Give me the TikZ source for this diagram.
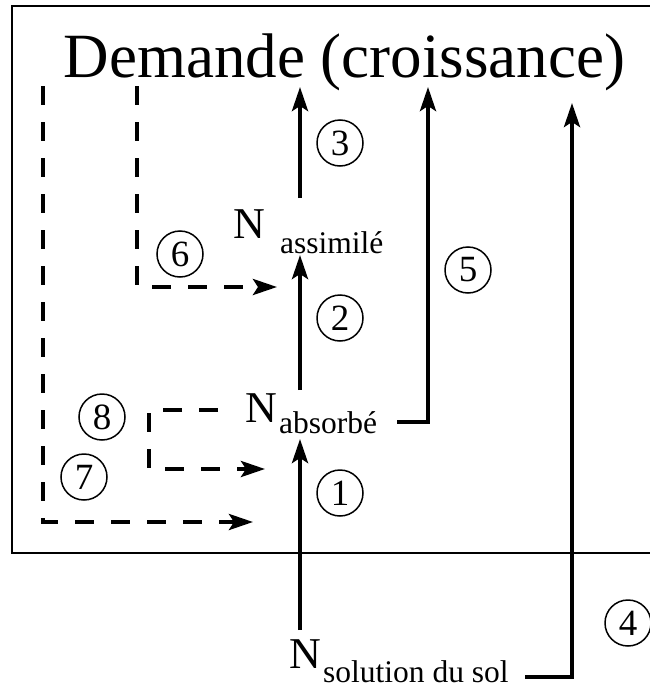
\documentclass[tikz,border=0pt]{standalone}
\usepackage{fontspec}
\setmainfont{Liberation Serif}
\usetikzlibrary{arrows.meta}
\begin{document}
\begin{tikzpicture}[x=1pt,y=-1pt,
  flow/.style={line width=4pt,-{Stealth[length=24pt,width=16pt,inset=5pt]}},
  dflow/.style={flow,dash pattern=on 19pt off 17pt},
  num/.style={circle,draw,line width=1.5pt,minimum size=46pt,inner sep=0pt,font=\fontsize{37}{37}\selectfont},
  lbl/.style={inner sep=0pt,anchor=base west},
  bigN/.style={lbl,font=\fontsize{44}{44}\selectfont},
  subtxt/.style={lbl,font=\fontsize{31.5}{31.5}\selectfont},
  frame/.style={line width=2pt}]
\useasboundingbox (0,0) rectangle (650,688);
\fill[white] (0,0) rectangle (650,688);
% frame (open on the right)
\draw[frame] (650,6) -- (12,6) -- (12,553) -- (650,553);
% texts
\node[inner sep=0pt,anchor=base,font=\fontsize{63}{63}\selectfont] (dem) at (344.5,77) {Demande (croissance)};
\node[bigN] (nassN) at (233,238) {N};
\node[subtxt] (nass) at (280,253) {assimilé};
\node[bigN] (nabsN) at (245,422) {N};
\node[subtxt] (nabs) at (279,433) {absorbé};
\node[bigN] (nsolN) at (289,668) {N};
\node[subtxt] (nsol) at (323,682) {solution du sol};
% circled numbers
\node[num] (c1) at (340,493) {1};
\node[num] (c2) at (340,318) {2};
\node[num] (c3) at (340,143) {3};
\node[num] (c4) at (628,623) {4};
\node[num] (c5) at (468,270) {5};
\node[num] (c6) at (180,254) {6};
\node[num] (c7) at (84,477) {7};
\node[num] (c8) at (102,417) {8};
% connector end points
\coordinate (a1s) at (300,630); \coordinate (a1e) at (300,439);
\coordinate (a2s) at (300,390); \coordinate (a2e) at (300,255);
\coordinate (a3s) at (300,198); \coordinate (a3e) at (300,87);
\coordinate (a5s) at (397,422); \coordinate (a5k) at (428,422); \coordinate (a5e) at (428,87);
\coordinate (a4s) at (525,677); \coordinate (a4k) at (572,677); \coordinate (a4e) at (572,103);
\coordinate (a6s) at (137,86); \coordinate (a6k) at (137,287); \coordinate (a6e) at (277,287);
\coordinate (a7s) at (43,86); \coordinate (a7k) at (43,522); \coordinate (a7e) at (253,522);
\coordinate (a8s) at (218,410); \coordinate (a8k) at (149,410); \coordinate (a8l) at (149,469); \coordinate (a8e) at (265,469);
% solid flows
\draw[flow] (a1s) -- (a1e);
\draw[flow] (a2s) -- (a2e);
\draw[flow] (a3s) -- (a3e);
\draw[flow] (a5s) -- (a5k) -- (a5e);
\draw[flow] (a4s) -- (a4k) -- (a4e);
% dashed flows
\draw[dflow] (a6s) -- (a6k) -- (a6e);
\draw[dflow] (a7s) -- (a7k) -- (a7e);
\draw[dflow] (a8s) -- (a8k) -- (a8l) -- (a8e);
\end{tikzpicture}
\end{document}
